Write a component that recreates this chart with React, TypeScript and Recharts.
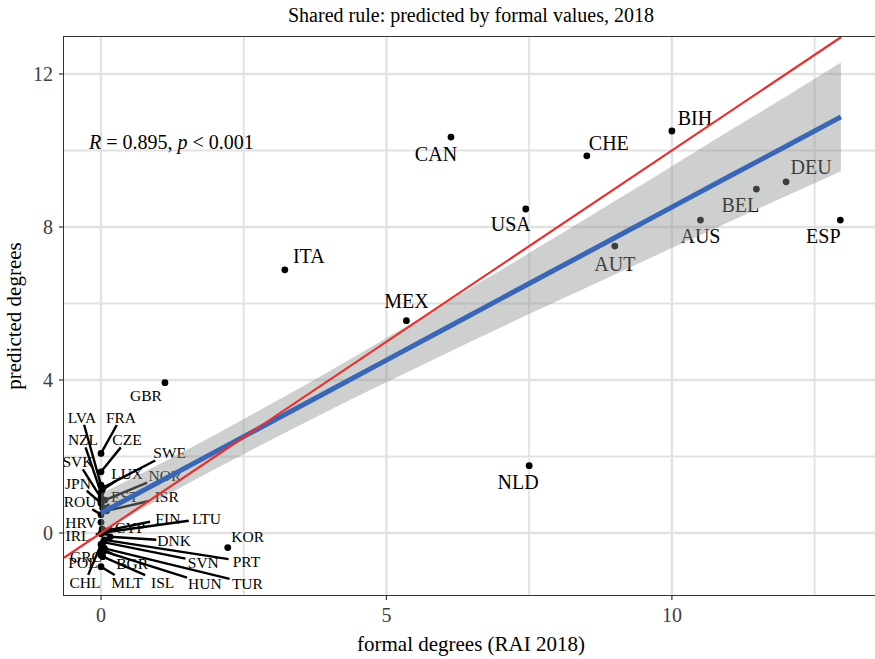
import React from 'react';
import {
  ComposedChart,
  Scatter,
  Area,
  Line,
  XAxis,
  YAxis,
  ReferenceLine,
} from 'recharts';

// country codes, RAI 2018 formal degrees and the predicted degrees
const countries = [
  'CAN', 'BIH', 'CHE', 'USA', 'DEU', 'BEL', 'AUS', 'ESP', 'AUT', 'ITA', 'MEX', 'GBR', 'NLD', 'KOR',
  'LVA', 'FRA', 'NZL', 'CZE', 'SVK', 'SWE', 'LUX', 'NOR', 'JPN', 'EST', 'ISR', 'ROU', 'HRV', 'FIN',
  'LTU', 'CYP', 'IRL', 'DNK', 'PRT', 'SVN', 'BGR', 'GRC', 'POL', 'CHL', 'MLT', 'ISL', 'HUN', 'TUR',
];
const formal = [
  6.13, 10.0, 8.51, 7.44, 12.0, 11.48, 10.5, 12.95, 9.0, 3.22, 5.35, 1.12, 7.5, 2.22,
  0, 0, 0, 0, 0, 0.03, 0.02, 0.07, 0, 0.03, 0.1, 0, 0, 0.05,
  0.08, 0.02, 0, 0.16, 0.06, 0.04, 0.02, 0, 0, 0, 0, 0.03, 0.05, 0.06,
];
const predicted = [
  10.35, 10.51, 9.86, 8.47, 9.18, 8.99, 8.18, 8.18, 7.5, 6.88, 5.55, 3.93, 1.76, -0.38,
  1.25, 2.08, 1.05, 1.6, 0.92, 1.18, 1.12, 0.86, 0.78, 0.66, 0.58, 0.48, 0.28, 0.05,
  0.02, 0.1, -0.02, -0.1, -0.18, -0.24, -0.42, -0.5, -0.58, -0.3, -0.88, -0.62, -0.48, -0.4,
];

// linear fit with its 95% band
const fitX = [0, 1, 2, 3, 4, 5, 6, 7, 8, 9, 10, 11, 12, 12.96];
const fitY = [0.52, 1.32, 2.12, 2.92, 3.72, 4.52, 5.32, 6.12, 6.92, 7.72, 8.52, 9.32, 10.11, 10.88];
const bandLow = [0.01, 0.86, 1.67, 2.45, 3.21, 3.94, 4.66, 5.37, 6.07, 6.76, 7.45, 8.13, 8.81, 9.46];
const bandHigh = [1.03, 1.78, 2.57, 3.39, 4.23, 5.1, 5.98, 6.87, 7.77, 8.68, 9.59, 10.51, 11.41, 12.3];

const xTicks = [0, 5, 10];
const yTicks = [0, 4, 8, 12];
const xMinor = [2.5, 7.5, 12.5];
const yMinor = [2, 6, 10];

// label placement: [dx, dy, font size, draw segment]
const labelPos: Record<string, [number, number, number, boolean]> = {
  CAN: [-15, 17, 20, false], BIH: [23, -13, 20, false], CHE: [22, -13, 20, false],
  USA: [-15, 15, 20, false], DEU: [25, -15, 20, false], BEL: [-16, 16, 20, false],
  AUS: [0, 16, 20, false], ESP: [-17, 16, 20, false], AUT: [0, 18, 20, false],
  ITA: [24, -14, 20, false], MEX: [0, -20, 20, false], GBR: [-19, 13, 15.5, false],
  NLD: [-11, 16, 20, false], KOR: [20, -11, 15.5, false],
  LVA: [-19, -68, 15.5, true], FRA: [20, -36, 15.5, true], NZL: [-18, -53, 15.5, true],
  CZE: [26, -32, 15.5, true], SVK: [-23, -36, 15.5, true], SWE: [67, -35, 15.5, true],
  LUX: [25, -17, 15.5, true], NOR: [60, -25, 15.5, true], JPN: [-23, -20, 15.5, true],
  EST: [22, -11, 15.5, true], ISR: [60, -14, 15.5, true], ROU: [-21, -13, 15.5, true],
  HRV: [-20, 0, 15.5, true], FIN: [64, -13, 15.5, true], LTU: [101, -14, 15.5, true],
  CYP: [28, -2, 15.5, true], IRL: [-23, 2, 15.5, true], DNK: [64, 4, 15.5, true],
  PRT: [142, 22, 15.5, true], SVN: [100, 20, 15.5, true], BGR: [30, 14, 15.5, true],
  GRC: [-15, 4, 15.5, true], POL: [-18, 7, 15.5, true], CHL: [-16, 38, 15.5, true],
  MLT: [26, 16, 15.5, true], ISL: [60, 26, 15.5, true], HUN: [101, 32, 15.5, true],
  TUR: [143, 35, 15.5, true],
};

const points = countries.map((code, i) => ({ code, x: formal[i], y: predicted[i] }));
const band = fitX.map((x, i) => ({ x, fit: fitY[i], range: [bandLow[i], bandHigh[i]] }));

const xDomain: [number, number] = [-0.648, 13.61];
const yDomain: [number, number] = [-1.621, 12.967];

const FONT = "'Liberation Serif', 'DejaVu Serif', serif";
const GRID = '#e2e2e2';

const Dot = (props: any) => {
  const { cx, cy } = props;
  return <circle cx={cx} cy={cy} r={3.4} fill="#000" />;
};

// text label, with a leader line to the point when it sits far away
const CountryLabel = (props: any) => {
  const { cx, cy, payload } = props;
  const [dx, dy, fs, seg] = labelPos[payload.code];
  let line = null;
  if (seg) {
    const hw = payload.code.length * fs * 0.34 + 2;
    const hh = fs * 0.36 + 2;
    const k = Math.min(dx ? hw / Math.abs(dx) : 99, dy ? hh / Math.abs(dy) : 99);
    const s = Math.max(0, 1 - k);
    if (s > 0) {
      line = (
        <line x1={cx} y1={cy} x2={cx + dx * s} y2={cy + dy * s} stroke="#000" strokeWidth={2.4} />
      );
    }
  }
  return (
    <g>
      {line}
      <text
        x={cx + dx}
        y={cy + dy}
        textAnchor="middle"
        dominantBaseline="central"
        fontSize={fs}
        fontFamily={FONT}
        fill="#000"
      >
        {payload.code}
      </text>
    </g>
  );
};

export default function App() {
  const tickStyle = { fontSize: 20, fill: '#3d3d3d', fontFamily: FONT };
  return (
    <div
      style={{
        position: 'absolute',
        left: 0,
        top: 0,
        width: 875,
        height: 659,
        overflow: 'hidden',
        background: '#fff',
        fontFamily: FONT,
      }}
    >
      <ComposedChart
        width={890}
        height={659}
        data={band}
        margin={{ top: 37, right: 12, bottom: 0, left: 0 }}
      >
        <XAxis
          dataKey="x"
          type="number"
          domain={xDomain}
          allowDataOverflow
          ticks={xTicks}
          height={64}
          axisLine={false}
          tickSize={5}
          tickMargin={8}
          tickLine={{ stroke: '#333', strokeWidth: 1.2 }}
          tick={tickStyle}
        />
        <YAxis
          dataKey="y"
          type="number"
          domain={yDomain}
          allowDataOverflow
          ticks={yTicks}
          width={64}
          axisLine={false}
          tickSize={5}
          tickMargin={6}
          tickLine={{ stroke: '#333', strokeWidth: 1.2 }}
          tick={tickStyle}
        />
        {xMinor.map((v) => (
          <ReferenceLine key={'xm' + v} x={v} stroke={GRID} strokeWidth={1.9} zIndex={-100} />
        ))}
        {yMinor.map((v) => (
          <ReferenceLine key={'ym' + v} y={v} stroke={GRID} strokeWidth={1.9} zIndex={-100} />
        ))}
        {xTicks.map((v) => (
          <ReferenceLine key={'x' + v} x={v} stroke={GRID} strokeWidth={2.4} zIndex={-100} />
        ))}
        {yTicks.map((v) => (
          <ReferenceLine key={'y' + v} y={v} stroke={GRID} strokeWidth={2.4} zIndex={-100} />
        ))}
        <Scatter data={points} shape={Dot} isAnimationActive={false} zIndex={40} />
        <Scatter data={points} shape={CountryLabel} isAnimationActive={false} zIndex={50} />
        <Area
          dataKey="range"
          type="monotone"
          stroke="none"
          fill="#8e9090"
          fillOpacity={0.43}
          isAnimationActive={false}
          zIndex={100}
        />
        <Line
          dataKey="fit"
          type="linear"
          stroke="#3a66b6"
          strokeWidth={5}
          dot={false}
          activeDot={false}
          isAnimationActive={false}
          zIndex={400}
        />
        <ReferenceLine
          segment={[
            { x: xDomain[0], y: xDomain[0] },
            { x: yDomain[1], y: yDomain[1] },
          ]}
          stroke="#e8302e"
          strokeWidth={2.2}
          zIndex={450}
        />
      </ComposedChart>

      {/* panel border */}
      <div
        style={{
          position: 'absolute',
          left: 63,
          top: 36,
          width: 817,
          height: 560,
          border: '1.5px solid #333',
          boxSizing: 'border-box',
          pointerEvents: 'none',
        }}
      />

      <div
        style={{
          position: 'absolute',
          left: 64,
          width: 814,
          top: 2,
          textAlign: 'center',
          fontSize: 20,
          lineHeight: '26px',
          color: '#000',
        }}
      >
        Shared rule: predicted by formal values, 2018
      </div>

      <div
        style={{
          position: 'absolute',
          left: 89,
          top: 129,
          fontSize: 20,
          lineHeight: '26px',
          color: '#000',
          whiteSpace: 'nowrap',
        }}
      >
        <i>R</i> = 0.895, <i>p</i> &lt; 0.001
      </div>

      <div
        style={{
          position: 'absolute',
          left: 64,
          width: 814,
          top: 631,
          textAlign: 'center',
          fontSize: 21,
          lineHeight: '26px',
          color: '#000',
        }}
      >
        formal degrees (RAI 2018)
      </div>

      <div
        style={{
          position: 'absolute',
          left: 14,
          top: 316,
          transform: 'translate(-50%, -50%) rotate(-90deg)',
          fontSize: 21,
          lineHeight: '26px',
          color: '#000',
          whiteSpace: 'nowrap',
        }}
      >
        predicted degrees
      </div>
    </div>
  );
}
